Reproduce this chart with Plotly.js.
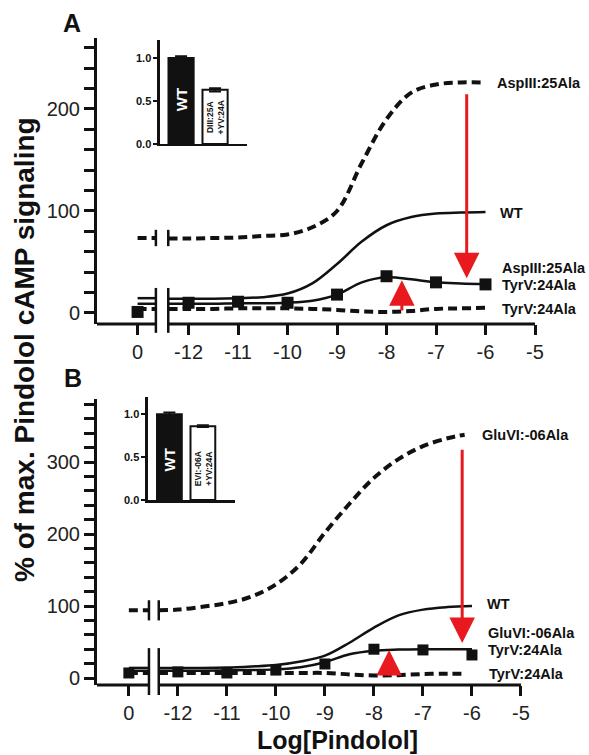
<!DOCTYPE html>
<html>
<head>
<meta charset="utf-8">
<script src="https://cdn.plot.ly/plotly-3.0.1.min.js"></script>
<style>html,body{margin:0;padding:0;background:#fff;}#chart{width:589px;height:755px;}</style>
</head>
<body>
<div id="chart"></div>
<script>
// ---------- DATA ----------
// x tick positions (log units; "0" = no-drug point placed left of the axis break)
const xTickValsA = [-13.03, -12, -11, -10, -9, -8, -7, -6, -5];
const xTickValsB = [-13.0, -12, -11, -10, -9, -8, -7, -6, -5];
const xTickText = ['0', '-12', '-11', '-10', '-9', '-8', '-7', '-6', '-5'];

// basal segment (left of break) x positions
const basalXA = [-13.03, -12.66];
const basalXB = [-13.0, -12.59];

// fitted-curve sample positions
const fitX = [-12.41, -12, -11.5, -11, -10.5, -10, -9.5, -9, -8.5, -8, -7.5, -7, -6.5, -6];
const fitXBdash = [-12.39, -12, -11.5, -11, -10.5, -10, -9.5, -9, -8.5, -8, -7.5, -7, -6.5, -6.15];
const fitXB = [-12.39, -12, -11.5, -11, -10.5, -10, -9.5, -9, -8.5, -8, -7.5, -7, -6.5, -6];

// Panel A
const aspBasalA = 73.5;
const aspA = [73, 73, 73.5, 74, 75.5, 77, 84, 100, 147, 190, 216, 224, 226, 226];
const wtBasalA = 14.5;
const wtA = [14, 14, 14, 14.5, 15.5, 19, 29, 48, 70, 86, 94, 97.5, 98.5, 99];
const dblBasalA = 9;
const dblCurveA = [9, 9, 9, 9.5, 9.5, 10, 12, 18, 30, 35, 33, 30, 29, 28.5];
const tyrBasalA = 4;
const tyrA = [4, 4, 4, 4.5, 4.5, 4.5, 4, 3, 1.5, 1, 2, 4, 4.5, 5];
const dblPtsXA = [-13.03, -12, -11, -10, -9, -8, -7, -6];
const dblPtsA = [1, 10, 11, 10, 18, 36, 30, 28];

// Panel B
const gluBasalB = 94;
const gluB = [94, 95, 99, 104, 113, 130, 158, 202, 242, 278, 304, 322, 333, 338];
const wtBasalB = 14;
const wtB = [14, 14, 14, 14.5, 16, 18, 23, 31, 49, 70, 87, 95, 98.5, 100];
const dblBasalB = 10;
const dblCurveB = [10, 10, 10, 10.5, 11, 12, 15, 22, 33, 38, 39.5, 40, 40, 40];
const tyrBasalB = 7;
const tyrB = [7, 7, 7, 7, 7, 7, 7, 7, 5, 3.5, 4, 5.5, 6, 6];
const dblPtsXB = [-13.0, -12, -11, -10, -9, -8, -7, -6];
const dblPtsB = [7, 8.5, 7, 11, 19.5, 40, 39, 32];

// Insets (fraction of WT)
const insetCatsA = ['WT', 'DIII:25A<br>+YV:24A'];
const insetValsA = [1.0, 0.63];
const insetErrA = [0.02, 0.02];
const insetCatsB = ['WT', 'EVI:-06A<br>+YV:24A'];
const insetValsB = [1.0, 0.86];
const insetErrB = [0.02, 0.01];

// labels
const labelsA = [
  {t: 'AspIII:25Ala', x: -5.815, y: 225.5},
  {t: 'WT', x: -5.755, y: 98},
  {t: 'AspIII:25Ala', x: -5.71, y: 44},
  {t: 'TyrV:24Ala', x: -5.71, y: 27.5},
  {t: 'TyrV:24Ala', x: -5.71, y: 4}
];
const labelsB = [
  {t: 'GluVI:-06Ala', x: -5.84, y: 337.5},
  {t: 'WT', x: -5.73, y: 103},
  {t: 'GluVI:-06Ala', x: -5.71, y: 62.5},
  {t: 'TyrV:24Ala', x: -5.71, y: 39},
  {t: 'TyrV:24Ala', x: -5.69, y: 5.5}
];

// red arrows: [x, tipY, tailY]
const arrowsA = [[-6.38, 34, 216], [-7.69, 32, 1]];
const arrowsB = [[-6.2, 48.6, 319], [-7.69, 39, 1.4]];

// ---------- STYLE ----------
const BLACK = '#111';
const RED = '#e8191f';
const DASH = '9px,5px';

function curve(basalX, basalY, fx, fy, xa, ya, dashed) {
  return {
    x: basalX.concat([null], fx),
    y: [basalY, basalY, null].concat(fy),
    xaxis: xa, yaxis: ya, mode: 'lines', type: 'scatter',
    line: {color: BLACK, width: dashed ? 4 : 2.5, dash: dashed ? DASH : 'solid', shape: 'spline', smoothing: 1},
    hoverinfo: 'skip', showlegend: false
  };
}
function pts(x, y, xa, ya, size) {
  return {x: x, y: y, xaxis: xa, yaxis: ya, mode: 'markers', type: 'scatter',
    marker: {symbol: 'square', size: size, color: BLACK}, showlegend: false, hoverinfo: 'skip'};
}
function bars(vals, errs, xa, ya) {
  return {x: [1, 2], y: vals, xaxis: xa, yaxis: ya, type: 'bar', width: 0.74,
    marker: {color: [BLACK, '#fff'], line: {color: BLACK, width: 2}},
    error_y: {type: 'data', array: errs, visible: true, color: BLACK, thickness: 2, width: 6},
    showlegend: false, hoverinfo: 'skip'};
}

const data = [
  curve(basalXA, aspBasalA, fitX, aspA, 'x', 'y', true),
  curve(basalXA, wtBasalA, fitX, wtA, 'x', 'y', false),
  curve(basalXA, dblBasalA, fitX, dblCurveA, 'x', 'y', false),
  curve(basalXA, tyrBasalA, fitX, tyrA, 'x', 'y', true),
  pts(dblPtsXA, dblPtsA, 'x', 'y', 12),
  curve(basalXB, gluBasalB, fitXBdash, gluB, 'x2', 'y2', true),
  curve(basalXB, wtBasalB, fitXB, wtB, 'x2', 'y2', false),
  curve(basalXB, dblBasalB, fitXB, dblCurveB, 'x2', 'y2', false),
  curve(basalXB, tyrBasalB, fitXBdash, tyrB, 'x2', 'y2', true),
  pts(dblPtsXB, dblPtsB, 'x2', 'y2', 11),
  bars(insetValsA, insetErrA, 'x3', 'y3'),
  bars(insetValsB, insetErrB, 'x4', 'y4')
];

const tickFont = {family: 'Liberation Sans, Arial, sans-serif', size: 20, color: '#222'};
function mainX(domain, range, tickvals, anchor) {
  return {domain: domain, range: range, anchor: anchor, tickmode: 'array', tickvals: tickvals, ticktext: xTickText,
    showline: false, zeroline: false, showgrid: false, ticks: 'outside', ticklen: 10, tickwidth: 3, tickcolor: BLACK,
    tickfont: tickFont, fixedrange: true};
}
function mainY(domain, range, tickvals, anchor) {
  return {domain: domain, range: range, anchor: anchor, tickmode: 'array', tickvals: tickvals,
    showline: true, linewidth: 3, linecolor: BLACK, zeroline: false, showgrid: false,
    ticks: 'outside', ticklen: 10, tickwidth: 3, tickcolor: BLACK, tickfont: tickFont,
    minor: {dtick: 20, tick0: 0, ticks: 'outside', ticklen: 10, tickwidth: 3, tickcolor: BLACK, showgrid: false},
    fixedrange: true};
}
const insetFont = {family: 'Liberation Sans, Arial, sans-serif', size: 11, color: BLACK, weight: 'bold'};
function insetX(domain, range, anchor) {
  return {domain: domain, range: range, anchor: anchor, showline: true, linewidth: 2.5, linecolor: BLACK,
    showticklabels: false, ticks: '', zeroline: false, showgrid: false, fixedrange: true};
}
function insetY(domain, range, anchor) {
  return {domain: domain, range: range, anchor: anchor, showline: true, linewidth: 2.5, linecolor: BLACK,
    tickmode: 'array', tickvals: [0, 0.5, 1], ticktext: ['0.0', '0.5', '1.0'], ticks: 'outside', ticklen: 4,
    tickwidth: 2, tickcolor: BLACK, tickfont: insetFont, zeroline: false, showgrid: false, fixedrange: true};
}

const layout = {
  width: 589, height: 755,
  margin: {l: 97, r: 54, t: 38, b: 70},
  paper_bgcolor: '#fff', plot_bgcolor: 'rgba(0,0,0,0)',
  showlegend: false,
  font: {family: 'Liberation Sans, Arial, sans-serif', color: BLACK},
  xaxis: mainX([0, 1], [-13.85, -5], xTickValsA, 'y'),
  yaxis: mainY([0.558, 1], [-10.8, 269.6], [0, 100, 200], 'x'),
  xaxis2: mainX([0, 0.968], [-13.65, -5], xTickValsB, 'y2'),
  yaxis2: mainY([0, 0.442], [-9.7, 387.5], [0, 100, 200, 300], 'x2'),
  xaxis3: insetX([0.1438, 0.3425], [0.38, 2.94], 'y3'),
  yaxis3: insetY([0.8362, 0.9969], [0, 1.21], 'x3'),
  xaxis4: insetX([0.1164, 0.3151], [0.36, 2.96], 'y4'),
  yaxis4: insetY([0.2859, 0.4451], [0, 1.2], 'x4'),
  shapes: [],
  annotations: []
};

// broken x-axis lines and break marks
function axisBreak(xa, ya, left, b0, b1, right, yLo, yHi, curveY, curveHalf) {
  const L = {color: BLACK, width: 3};
  layout.shapes.push({type: 'line', xref: xa, yref: ya + ' domain', x0: left, x1: b0, y0: 0, y1: 0, line: L});
  layout.shapes.push({type: 'line', xref: xa, yref: ya + ' domain', x0: b1, x1: right, y0: 0, y1: 0, line: L});
  [b0, b1].forEach(function (bx) {
    layout.shapes.push({type: 'line', xref: xa, yref: ya + ' domain', x0: bx, x1: bx, y0: yLo, y1: yHi, line: {color: BLACK, width: 2.5}});
    layout.shapes.push({type: 'line', xref: xa, yref: ya, x0: bx, x1: bx, y0: curveY - curveHalf, y1: curveY + curveHalf, line: {color: BLACK, width: 2.5}});
  });
}
axisBreak('x', 'y', -13.85, basalXA[1], fitX[0], -5, -0.031, 0.126, aspBasalA, 8);
axisBreak('x2', 'y2', -13.65, basalXB[1], fitXB[0], -5, -0.035, 0.129, gluBasalB, 14);

const labFont = {family: 'Liberation Sans, Arial, sans-serif', size: 14.5, color: BLACK, weight: 'bold'};
labelsA.forEach(function (l) {
  layout.annotations.push({xref: 'x', yref: 'y', x: l.x, y: l.y, text: l.t, showarrow: false, xanchor: 'left', yanchor: 'middle', font: labFont});
});
labelsB.forEach(function (l) {
  layout.annotations.push({xref: 'x2', yref: 'y2', x: l.x, y: l.y, text: l.t, showarrow: false, xanchor: 'left', yanchor: 'middle', font: labFont});
});
function addArrows(list, xa, ya) {
  list.forEach(function (a) {
    layout.annotations.push({xref: xa, yref: ya, axref: xa, ayref: ya, x: a[0], y: a[1], ax: a[0], ay: a[2],
      text: '', showarrow: true, arrowhead: 2, arrowsize: 1.7, arrowwidth: 3, arrowcolor: RED});
  });
}
addArrows(arrowsA, 'x', 'y');
addArrows(arrowsB, 'x2', 'y2');

// inset bar texts
const wtTxt = {family: 'Liberation Sans, Arial, sans-serif', size: 15, color: '#fff', weight: 'bold'};
const mutTxt = {family: 'Liberation Sans, Arial, sans-serif', size: 8.5, color: BLACK, weight: 'bold'};
function centered(o) { o.xanchor = 'center'; o.yanchor = 'middle'; o.showarrow = false; return o; }
layout.annotations.push(centered({xref: 'x3', yref: 'y3', x: 1, y: 0.51, text: insetCatsA[0], textangle: -90, font: wtTxt}));
layout.annotations.push(centered({xref: 'x3', yref: 'y3', x: 2, y: 0.31, text: insetCatsA[1], textangle: -90, font: mutTxt}));
layout.annotations.push(centered({xref: 'x4', yref: 'y4', x: 1, y: 0.465, text: insetCatsB[0], textangle: -90, font: wtTxt}));
layout.annotations.push(centered({xref: 'x4', yref: 'y4', x: 2, y: 0.37, text: insetCatsB[1], textangle: -90, font: mutTxt}));

// titles and panel letters
const titleFont = {family: 'Liberation Sans, Arial, sans-serif', size: 25, color: BLACK, weight: 'bold'};
const yTitleFont = {family: 'Liberation Sans, Arial, sans-serif', size: 28, color: BLACK, weight: 'bold'};
layout.annotations.push(centered({xref: 'paper', yref: 'paper', x: -0.164, y: 0.518, text: '% of max. Pindolol cAMP signaling', textangle: -90, font: yTitleFont}));
layout.annotations.push(centered({xref: 'paper', yref: 'paper', x: 0.548, y: -0.085, text: 'Log[Pindolol]', font: titleFont}));
const letterFont = {family: 'Liberation Sans, Arial, sans-serif', size: 25, color: BLACK, weight: 'bold'};
layout.annotations.push(centered({xref: 'paper', yref: 'paper', x: -0.057, y: 1.023, text: 'A', font: letterFont}));
layout.annotations.push(centered({xref: 'paper', yref: 'paper', x: -0.055, y: 0.4745, text: 'B', font: letterFont}));

Plotly.newPlot('chart', data, layout, {displayModeBar: false, staticPlot: true});
</script>
</body>
</html>
